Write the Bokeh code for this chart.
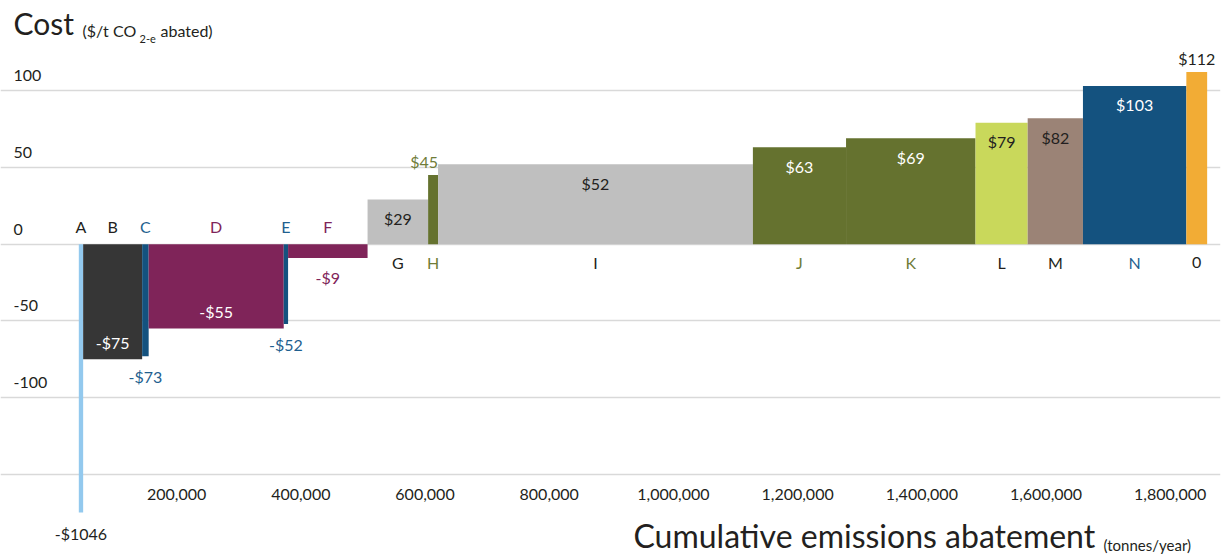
from bokeh.plotting import figure
from bokeh.layouts import column
from bokeh.models import Range1d, FixedTicker, NumeralTickFormatter, Label, ColumnDataSource
from bokeh.core.properties import value
from bokeh.embed import file_html
from bokeh.resources import INLINE

# Abatement measures, their marginal cost ($/t CO2-e) and yearly abatement (t/yr)
measures = ["A", "B", "C", "D", "E", "F", "G", "H", "I", "J", "K", "L", "M", "N", "0"]
cost = [-1046, -75, -73, -55, -52, -9, 29, 45, 52, 63, 69, 79, 82, 103, 112]
abatement = [7000, 95000, 10500, 217500, 7000, 128000, 97500, 16000,
             507000, 150000, 208500, 84000, 89000, 166500, 33500]
first_start = 42500

x_ticks = [200000, 400000, 600000, 800000, 1000000, 1200000, 1400000, 1600000, 1800000]
y_grid_values = [100, 50, 0, -50, -100, -150]
y_labels = ["100", "50", "0", "-50", "-100"]

FONT = "Lato"
DARK = "#231f20"
BLUE = "#14527f"
BLUE_TXT = "#1f5f8f"
PURPLE = "#7f2459"
OLIVE = "#65722f"
OLIVE_TXT = "#6f7c38"

bar_color = {"A": "#93c9ee", "B": "#363636", "C": BLUE, "D": PURPLE, "E": BLUE,
             "F": PURPLE, "G": "#bfbfbf", "H": OLIVE, "I": "#bfbfbf", "J": OLIVE,
             "K": OLIVE, "L": "#c9d85b", "M": "#9b8376", "N": BLUE, "0": "#f2ac35"}
letter_color = {"A": DARK, "B": DARK, "C": BLUE_TXT, "D": PURPLE, "E": BLUE_TXT,
                "F": PURPLE, "G": DARK, "H": OLIVE_TXT, "I": DARK, "J": OLIVE_TXT,
                "K": OLIVE_TXT, "L": DARK, "M": DARK, "N": BLUE_TXT, "0": DARK}
value_color = {"A": DARK, "B": "white", "C": BLUE_TXT, "D": "white", "E": BLUE_TXT,
               "F": PURPLE, "G": DARK, "H": OLIVE_TXT, "I": DARK, "J": "white",
               "K": "white", "L": DARK, "M": DARK, "N": "white", "0": DARK}
# cost labels that sit outside their bar
outside = {"C", "E", "F", "H", "0"}
right_anchored = {"H"}

# bar extents along the cumulative abatement axis
lefts, rights = [], []
pos = first_start
for w in abatement:
    lefts.append(pos)
    pos += w
    rights.append(pos)
centers = [(l + r) / 2 for l, r in zip(lefts, rights)]

bars = ColumnDataSource(dict(
    left=lefts, right=rights,
    top=[max(c, 0) for c in cost], bottom=[min(c, 0) for c in cost],
    color=[bar_color[m] for m in measures],
))

x_range = Range1d(-83600, 1881000)

p = figure(width=1225, height=513,
           x_range=x_range, y_range=Range1d(-174.7, 158.6),
           min_border_left=0, min_border_right=5, min_border_top=0, min_border_bottom=1,
           output_backend="svg", toolbar_location=None)
p.outline_line_color = None
p.background_fill_color = "white"
p.border_fill_color = "white"

p.yaxis.visible = False
p.xgrid.visible = False
p.ygrid.ticker = FixedTicker(ticks=y_grid_values)
p.ygrid.grid_line_color = "#d9d9d9"
p.ygrid.grid_line_width = 1.5

xa = p.xaxis[0]
xa.ticker = FixedTicker(ticks=x_ticks)
xa.formatter = NumeralTickFormatter(format="0,0")
xa.axis_line_color = None
xa.major_tick_line_color = None
xa.minor_tick_line_color = None
xa.major_tick_out = 0
xa.major_tick_in = 0
xa.major_label_standoff = -24
xa.major_label_text_font = FONT
xa.major_label_text_font_size = "16px"
xa.major_label_text_color = DARK

p.quad(left="left", right="right", top="top", bottom="bottom", source=bars,
       fill_color="color", line_color=None)

# y tick labels sitting just above their gridlines
p.text(x=[x_range.start] * len(y_labels), y=y_grid_values[:len(y_labels)], text=y_labels,
       x_offset=13, y_offset=-15, text_align="left", text_baseline="middle",
       text_font=value(FONT), text_font_size="16px", text_color=DARK)

# measure letters: above the zero line for savings, below it for costs
letters = ColumnDataSource(dict(
    x=centers, y=[0] * len(measures), text=measures,
    color=[letter_color[m] for m in measures],
    dy=[-17.5 if c < 0 else 18.5 for c in cost],
))
p.text(x="x", y="y", text="text", y_offset="dy", text_color="color", source=letters,
       text_align="center", text_baseline="middle",
       text_font=value(FONT), text_font_size="16px")

# cost labels
vx, vy, vt, vc, vdy, valign = [], [], [], [], [], []
for m, c, cx, r in zip(measures, cost, centers, rights):
    if m == "A":
        continue
    out = m in outside
    if c < 0:
        dy = 20 if out else -17
    else:
        dy = -14 if out else 19
    vx.append(r if m in right_anchored else cx)
    vy.append(c)
    vt.append(("-$%d" % -c) if c < 0 else ("$%d" % c))
    vc.append(value_color[m])
    vdy.append(dy)
    valign.append("right" if m in right_anchored else "center")

vals = ColumnDataSource(dict(x=vx, y=vy, text=vt, color=vc, dy=vdy, align=valign))
p.text(x="x", y="y", text="text", y_offset="dy", text_color="color", text_align="align",
       source=vals, text_baseline="middle",
       text_font=value(FONT), text_font_size="16px")

# y axis title with its subscript
p.add_layout(Label(x=13, y=490, x_units="screen", y_units="screen", text="Cost",
                   text_baseline="middle", text_font=FONT, text_font_size="30px",
                   text_color=DARK))
p.add_layout(Label(x=82, y=482, x_units="screen", y_units="screen", text="($/t CO",
                   text_baseline="middle", text_font=FONT, text_font_size="16px",
                   text_color=DARK))
p.add_layout(Label(x=139, y=474, x_units="screen", y_units="screen", text="2-e",
                   text_baseline="middle", text_font=FONT, text_font_size="11px",
                   text_color=DARK))
p.add_layout(Label(x=160, y=482, x_units="screen", y_units="screen", text="abated)",
                   text_baseline="middle", text_font=FONT, text_font_size="16px",
                   text_color=DARK))

# strip under the chart: off-scale saving of measure A and the x axis title
foot = figure(width=1225, height=42, x_range=x_range, y_range=Range1d(0, 42),
              min_border_left=0, min_border_right=5, min_border_top=0, min_border_bottom=0,
              x_axis_location=None, y_axis_location=None,
              output_backend="svg", toolbar_location=None)
foot.outline_line_color = None
foot.background_fill_color = "white"
foot.border_fill_color = "white"
foot.grid.visible = False

foot.text(x=[centers[0]], y=[22], text=["-$%d" % -cost[0]], text_align="center",
          text_baseline="middle", text_font=value(FONT), text_font_size="16px",
          text_color=DARK)
foot.add_layout(Label(x=633, y=20, x_units="screen", y_units="screen",
                      text="Cumulative emissions abatement",
                      text_baseline="middle", text_font=FONT, text_font_size="32px",
                      text_color=DARK))
foot.add_layout(Label(x=1103, y=11, x_units="screen", y_units="screen",
                      text="(tonnes/year)",
                      text_baseline="middle", text_font=FONT, text_font_size="15px",
                      text_color=DARK))

open("out.html", "w").write(file_html(column(p, foot, spacing=0), INLINE))
